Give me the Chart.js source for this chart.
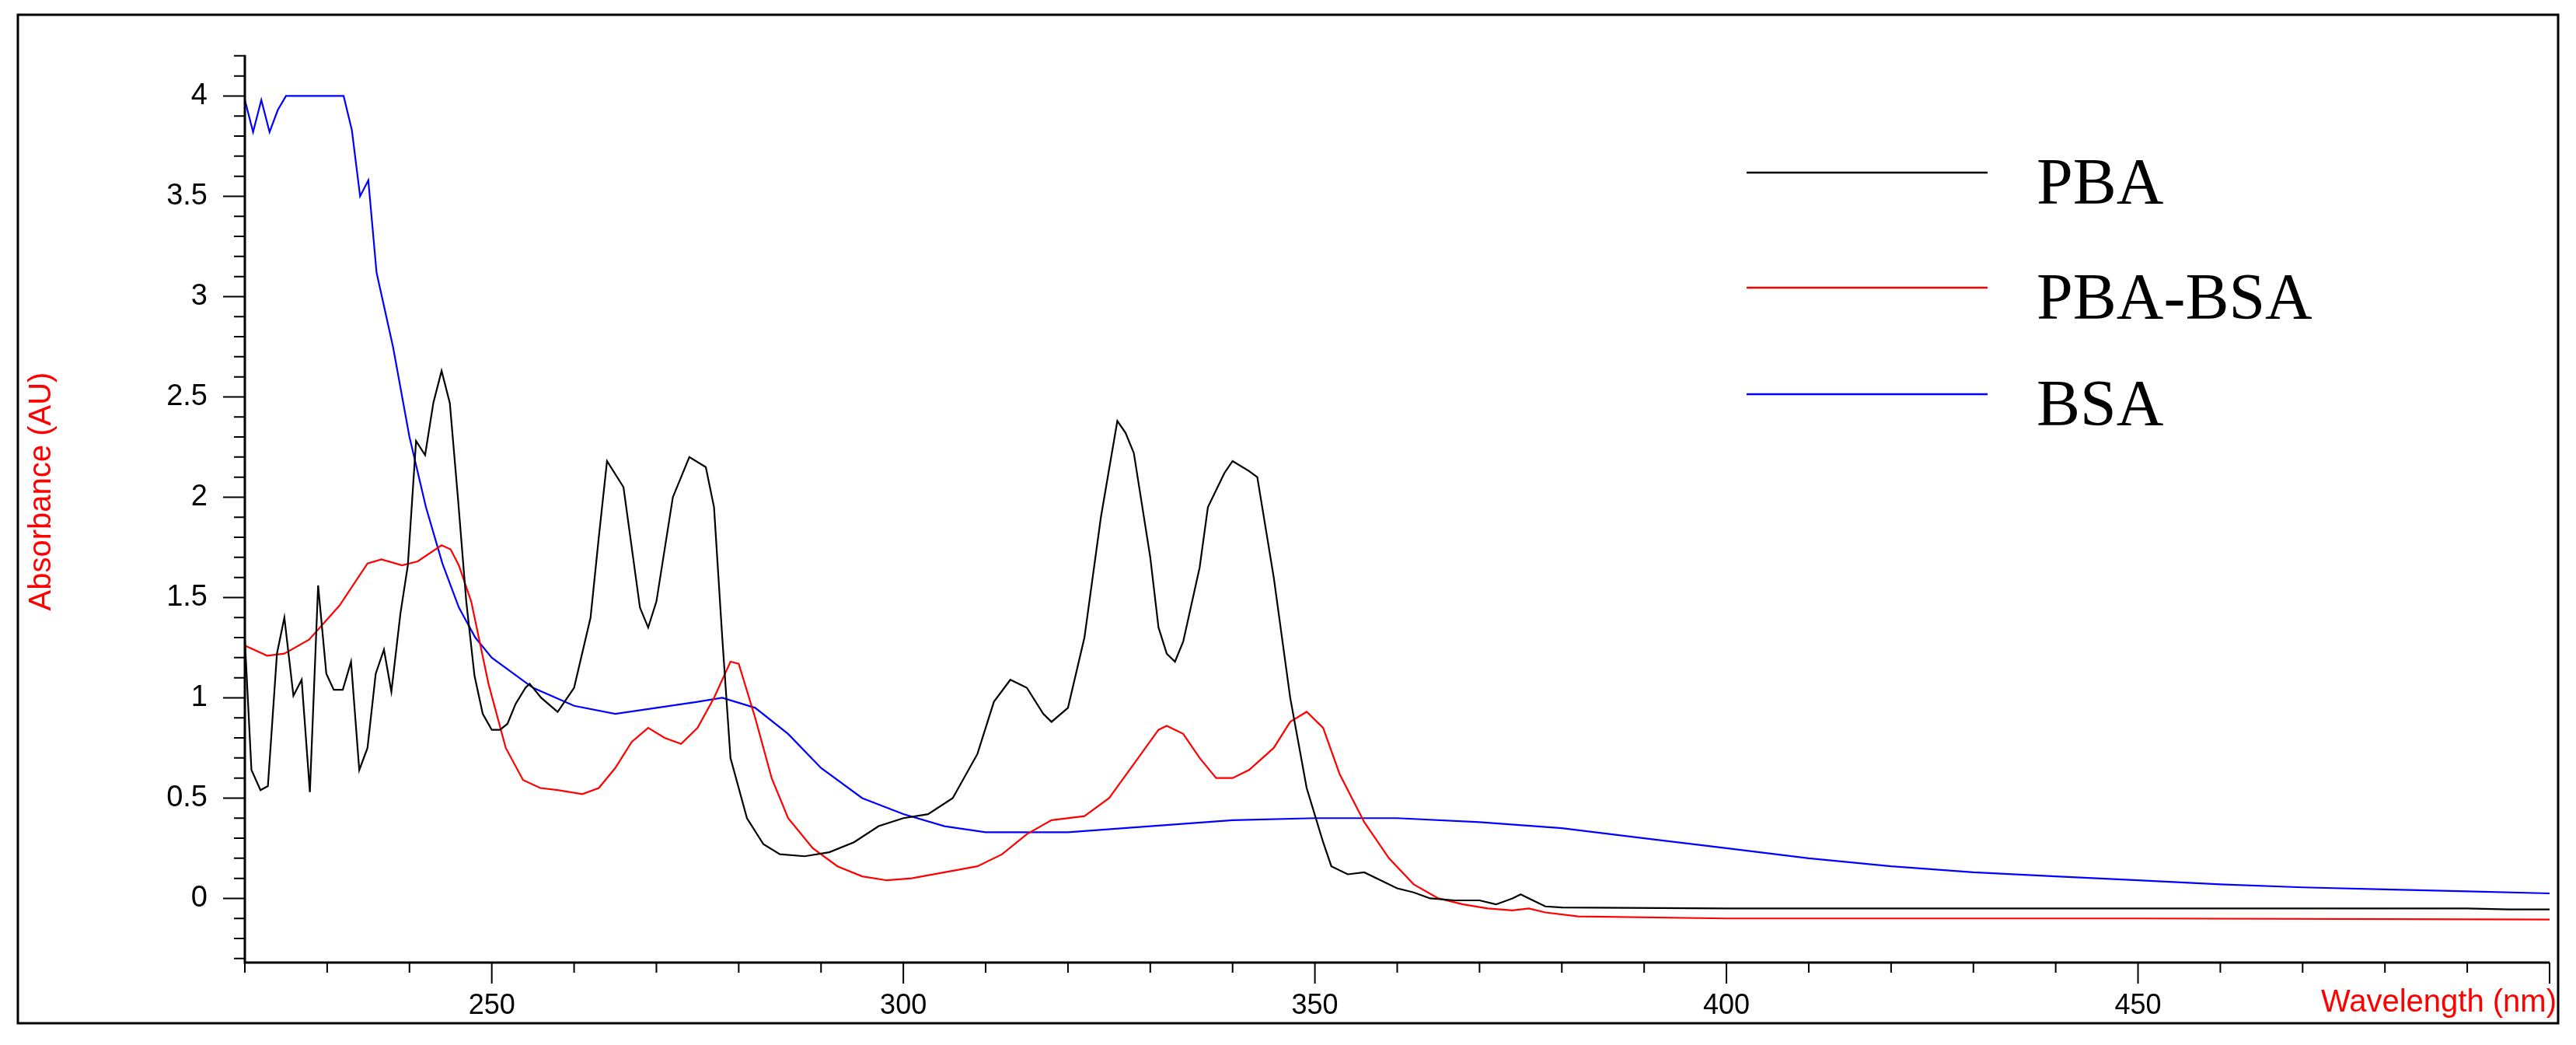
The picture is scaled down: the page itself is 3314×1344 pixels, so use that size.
<!DOCTYPE html>
<html><head><meta charset="utf-8">
<script src="https://cdn.jsdelivr.net/npm/chart.js@4"></script>
<style>html,body{margin:0;padding:0;background:#fff}#c{display:block}</style>
</head><body>
<canvas id="c" width="3314" height="1344"></canvas>
<script>
const seriesNames = ['PBA','PBA-BSA','BSA'];
const seriesColors = ['#000000','#ff0000','#0000ff'];
const xTickLabels = [250,300,350,400,450];
const yTickLabels = [0,0.5,1,1.5,2,2.5,3,3.5,4];

const pbaX = [220,220.8,221.9,222.8,223.9,224.8,225.9,226.9,227.9,228.9,229.9,230.8,231.9,232.9,233.9,234.9,235.9,236.9,237.8,238.9,239.8,240.8,241.9,242.9,243.9,244.9,245.9,246.9,247.9,248.9,250,251,251.9,252.9,254.1,254.6,256,258,260,262,263,264,266,268,269,270,272,274,276,277,278,279,281,283,285,288,291,294,297,300,303,306,309,311,313,315,317,318,320,322,324,326,327,328,330,331,332,333,334,336,337,339,340,342,343,345,347,349,351,352,354,356,358,360,362,364,367,370,372,374,375,376,378,380,400,450,490,495,500];
const pbaY = [1.29,0.64,0.54,0.56,1.22,1.4,1.01,1.09,0.53,1.56,1.12,1.04,1.04,1.18,0.64,0.75,1.12,1.24,1.03,1.42,1.66,2.28,2.21,2.47,2.63,2.47,1.99,1.48,1.11,0.92,0.84,0.84,0.87,0.97,1.05,1.07,1.0,0.93,1.05,1.4,1.8,2.18,2.05,1.45,1.35,1.48,2.0,2.2,2.15,1.95,1.3,0.7,0.4,0.27,0.22,0.21,0.23,0.28,0.36,0.4,0.42,0.5,0.72,0.98,1.09,1.05,0.92,0.88,0.95,1.3,1.9,2.38,2.32,2.22,1.7,1.35,1.22,1.18,1.28,1.65,1.95,2.12,2.18,2.13,2.1,1.6,1.0,0.55,0.28,0.16,0.12,0.13,0.09,0.05,0.03,0.0,-0.01,-0.01,-0.03,0.0,0.02,0.0,-0.04,-0.045,-0.05,-0.05,-0.05,-0.055,-0.055];

const pbaBsaX = [220,222.7,224.8,227.8,231.5,234.9,236.6,239.1,241,243.9,245,246,247.5,249.6,251.7,253.8,255.9,258,261,263,265,267,269,271,273,275,277,279,280,282,284,286,289,292,295,298,301,305,309,312,315,318,322,325,328,331,332,334,336,338,340,342,345,347,349,351,353,356,359,362,365,368,371,374,376,378,382,400,450,500];
const pbaBsaY = [1.26,1.21,1.22,1.29,1.46,1.67,1.69,1.66,1.68,1.76,1.74,1.66,1.48,1.07,0.75,0.59,0.55,0.54,0.52,0.55,0.65,0.78,0.85,0.8,0.77,0.85,1.0,1.18,1.17,0.9,0.6,0.4,0.25,0.16,0.11,0.09,0.1,0.13,0.16,0.22,0.32,0.39,0.41,0.5,0.67,0.84,0.86,0.82,0.7,0.6,0.6,0.64,0.75,0.88,0.93,0.85,0.62,0.38,0.2,0.07,0.0,-0.03,-0.05,-0.06,-0.05,-0.07,-0.09,-0.1,-0.1,-0.105];

const bsaX = [220,221,222,223,224,225,232,233,234,235,236,238,240,242,244,246,248,250,255,260,265,270,275,278,282,286,290,295,300,305,310,320,330,340,350,360,370,380,390,400,410,420,430,440,450,460,470,480,490,500];
const bsaY = [3.98,3.82,3.98,3.82,3.93,4.0,4.0,3.83,3.5,3.58,3.12,2.75,2.3,1.95,1.67,1.45,1.3,1.2,1.05,0.96,0.92,0.95,0.98,1.0,0.95,0.82,0.65,0.5,0.42,0.36,0.33,0.33,0.36,0.39,0.4,0.4,0.38,0.35,0.3,0.25,0.2,0.16,0.13,0.11,0.09,0.07,0.055,0.045,0.035,0.025];

const pts = (xs, ys) => xs.map((x, i) => ({x, y: ys[i]}));
const allX = [pbaX, pbaBsaX, bsaX], allY = [pbaY, pbaBsaY, bsaY];

const L = {left:315, top:21, right:3291, bottom:1238};

const decor = {
  id:'decor',
  afterDraw(chart){
    const ctx = chart.ctx, xs = chart.scales.x, ys = chart.scales.y, a = chart.chartArea;
    ctx.save();
    ctx.strokeStyle = '#000';
    ctx.lineWidth = 3;
    ctx.strokeRect(23, 19, 3291-23, 1316-19);
    ctx.beginPath();
    ctx.moveTo(a.left, a.top); ctx.lineTo(a.left, a.bottom); ctx.lineTo(a.right, a.bottom);
    ctx.stroke();
    ctx.lineWidth = 2;
    ctx.beginPath();
    ys.ticks.forEach(t => {
      const v = Math.round(t.value*10)/10, p = ys.getPixelForValue(v);
      const major = Math.abs(v*2 - Math.round(v*2)) < 1e-6;
      ctx.moveTo(a.left, p); ctx.lineTo(a.left - (major ? 28 : 14), p);
    });
    xs.ticks.forEach(t => {
      const v = Math.round(t.value), p = xs.getPixelForValue(v);
      const major = v % 50 === 0;
      ctx.moveTo(p, a.bottom); ctx.lineTo(p, a.bottom + (major ? 27 : 13));
    });
    ctx.stroke();
    ctx.fillStyle = '#ff0000';
    ctx.font = '40px "Liberation Sans", Arial, sans-serif';
    ctx.textAlign = 'right'; ctx.textBaseline = 'middle';
    ctx.fillText('Wavelength (nm)', 3289, 1290);
    ctx.translate(54, 632); ctx.rotate(-Math.PI/2);
    ctx.textAlign = 'center';
    ctx.fillText('Absorbance (AU)', 0, 0);
    ctx.restore();
    ctx.save();
    const ly = [222, 370, 507];
    seriesNames.forEach((n, i) => {
      ctx.strokeStyle = seriesColors[i]; ctx.lineWidth = 2.5;
      ctx.beginPath(); ctx.moveTo(2247, ly[i]); ctx.lineTo(2557, ly[i]); ctx.stroke();
      ctx.fillStyle = '#000';
      ctx.font = '84px "Liberation Serif", "Times New Roman", serif';
      ctx.textAlign = 'left'; ctx.textBaseline = 'middle';
      ctx.fillText(n, 2620, ly[i] + 18);
    });
    ctx.restore();
  }
};

new Chart(document.getElementById('c'), {
  type: 'line',
  data: {
    datasets: seriesNames.map((n, i) => ({
      label: n, data: pts(allX[i], allY[i]),
      borderColor: seriesColors[i], borderWidth: 2.2, pointRadius: 0, tension: 0, fill: false
    }))
  },
  options: {
    responsive: false, animation: false, devicePixelRatio: 1,
    layout: {padding: {top: 0, right: 3314 - L.right, left: 0, bottom: 0}},
    plugins: {legend: {display: false}, tooltip: {enabled: false}},
    scales: {
      x: {
        type: 'linear', min: 220, max: 500,
        afterFit(s){ s.height = 1344 - L.bottom; },
        grid: {display: false, drawTicks: false},
        border: {display: false},
        ticks: {
          stepSize: 10, autoSkip: false, maxRotation: 0, padding: 34,
          color: '#000', font: {size: 36, family: '"Liberation Sans", Arial, sans-serif'},
          callback: v => xTickLabels.includes(Math.round(v)) ? String(Math.round(v)) : ''
        }
      },
      y: {
        min: -0.32, max: 4.204,
        afterFit(s){ s.width = L.left; },
        grid: {display: false, drawTicks: false},
        border: {display: false},
        ticks: {
          stepSize: 0.1, autoSkip: false, padding: 48,
          color: '#000', font: {size: 38, family: '"Liberation Sans", Arial, sans-serif'},
          callback: v => { const r = Math.round(v*10)/10; return yTickLabels.some(t => Math.abs(t - r) < 1e-6) ? String(r) : ''; }
        }
      }
    }
  },
  plugins: [decor]
});
</script>
</body></html>
